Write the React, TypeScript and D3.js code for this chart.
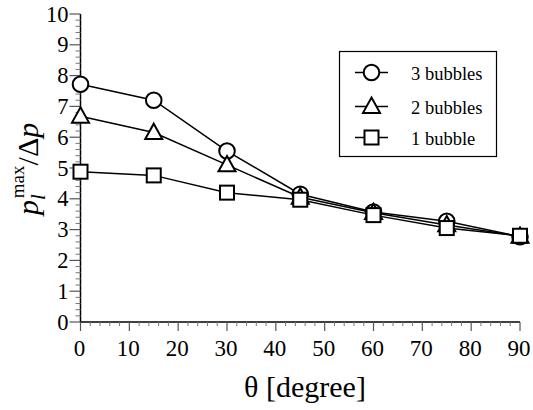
import React from "react";
import * as d3 from "d3";

const angles = [0, 15, 30, 45, 60, 75, 90];
const bubbles3 = [7.72, 7.2, 5.55, 4.15, 3.57, 3.27, 2.77];
const bubbles2 = [6.68, 6.15, 5.1, 4.05, 3.55, 3.15, 2.78];
const bubbles1 = [4.88, 4.76, 4.2, 3.97, 3.47, 3.05, 2.8];
const seriesNames = ["3 bubbles", "2 bubbles", "1 bubble"];
const seriesMarkers = ["circle", "triangle", "square"];
const xTicks = [0, 10, 20, 30, 40, 50, 60, 70, 80, 90];
const yTicks = [0, 1, 2, 3, 4, 5, 6, 7, 8, 9, 10];

const W = 533, H = 410;
const FONT = "Liberation Serif";

function Marker({ kind, x, y }: { kind: string; x: number; y: number }) {
  const sw = 2;
  if (kind === "circle") return <circle cx={x} cy={y} r={7.8} fill="white" stroke="black" strokeWidth={sw} />;
  if (kind === "triangle") {
    const s = 8.5;
    const p = [[x, y - s * 1.05], [x + s, y + s * 0.75], [x - s, y + s * 0.75]].map(q => q.join(",")).join(" ");
    return <polygon points={p} fill="white" stroke="black" strokeWidth={sw} />;
  }
  return <rect x={x - 7} y={y - 7} width={14} height={14} fill="white" stroke="black" strokeWidth={sw} />;
}

export default function App() {
  const x = d3.scaleLinear().domain([0, 90]).range([80.5, 520]);
  const y = d3.scaleLinear().domain([0, 10]).range([322, 14]);
  const series = [bubbles3, bubbles2, bubbles1];
  const line = d3.line<number>().x((_, i) => x(angles[i])).y(d => y(d));
  const xMinor = d3.range(0, 90.01, 2).filter(v => v % 10 !== 0);
  const yMinor = d3.range(0, 10.001, 0.2).map(v => +v.toFixed(1)).filter(v => Math.abs(v - Math.round(v)) > 1e-6);
  const legY = [72.5, 106.5, 137.5];
  return (
    <svg width={W} height={H} style={{ position: "absolute", left: 0, top: 0 }}>
      <rect width={W} height={H} fill="white" />
      <line x1={x(0)} x2={x(90)} y1={y(0)} y2={y(0)} stroke="black" strokeWidth={1.5} />
      <line x1={x(0)} x2={x(0)} y1={y(0)} y2={y(10)} stroke="black" strokeWidth={1.5} />
      {xMinor.map(t => (
        <line key={"xm" + t} x1={x(t)} x2={x(t)} y1={y(0)} y2={y(0) + 4} stroke="#777" strokeWidth={1} />
      ))}
      {yMinor.map(t => (
        <line key={"ym" + t} x1={x(0) - 5} x2={x(0)} y1={y(t)} y2={y(t)} stroke="#777" strokeWidth={1} />
      ))}
      {xTicks.map(t => (
        <line key={"xtl" + t} x1={x(t)} x2={x(t)} y1={y(0)} y2={y(0) + 9} stroke="#555" strokeWidth={1.2} />
      ))}
      {yTicks.map(t => (
        <line key={"ytl" + t} x1={x(0) - 11} x2={x(0)} y1={y(t)} y2={y(t)} stroke="#555" strokeWidth={1.2} />
      ))}
      {xTicks.map(t => (
        <text key={"xtt" + t} fontFamily={FONT} x={x(t) - 1} y={y(0) + 34} textAnchor="middle" fontSize={23}>{t}</text>
      ))}
      {yTicks.map(t => (
        <text key={"ytt" + t} fontFamily={FONT} x={x(0) - 12} y={y(t) + 7.5} textAnchor="end" fontSize={22.5}>{t}</text>
      ))}
      {series.map((s, k) => (
        <path key={"l" + k} d={line(s) || ""} fill="none" stroke="black" strokeWidth={1.5} />
      ))}
      {series.map((s, k) =>
        s.map((v, i) => <Marker key={"m" + k + "-" + i} kind={seriesMarkers[k]} x={x(angles[i])} y={y(v)} />)
      )}
      <rect x={339.5} y={51.5} width={157} height={105} fill="white" stroke="black" strokeWidth={1.2} />
      {seriesNames.map((n, k) => (
        <line key={"lgl" + k} x1={355} x2={388} y1={legY[k]} y2={legY[k]} stroke="black" strokeWidth={1.5} />
      ))}
      {seriesNames.map((n, k) => (
        <Marker key={"lgm" + k} kind={seriesMarkers[k]} x={371.5} y={legY[k]} />
      ))}
      {seriesNames.map((n, k) => (
        <text key={"lgt" + k} fontFamily={FONT} x={411} y={legY[k] + 7} fontSize={18.5}>{n}</text>
      ))}
      <text fontFamily={FONT} x={305} y={397} textAnchor="middle" fontSize={30}>θ [degree]</text>
      <text fontFamily={FONT} transform="translate(38,215) rotate(-90)" textAnchor="start" fontSize={30}>
        <tspan fontStyle="italic">p</tspan>
        <tspan fontStyle="italic" fontSize={21} dy={7}>l</tspan>
        <tspan fontSize={19} dx={-4} dy={-21}>max</tspan>
        <tspan dy={14}>/Δ</tspan>
        <tspan fontStyle="italic">p</tspan>
      </text>
    </svg>
  );
}
